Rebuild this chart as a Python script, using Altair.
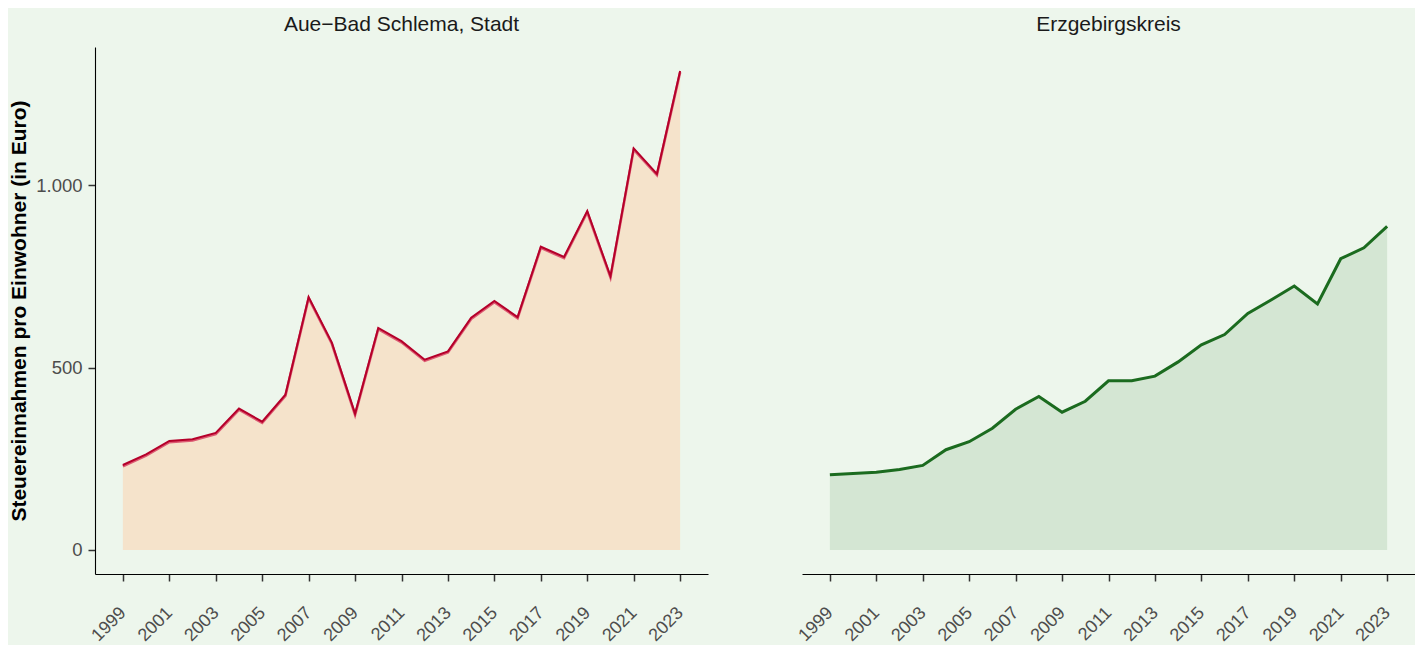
import altair as alt
import pandas as pd

years = list(range(1999, 2024))
aue_values = [233, 262, 299, 304, 321, 388, 352, 426, 694, 569, 374, 609, 573, 522, 545,
              637, 683, 639, 832, 804, 930, 751, 1102, 1032, 1314]
erz_values = [206, 210, 213, 221, 232, 275, 297, 334, 386, 421, 378, 408, 464, 464, 477,
              516, 563, 591, 649, 686, 724, 675, 799, 829, 888]
tick_years = list(range(1999, 2024, 2))
y_ticks = [0, 500, 1000]

titles = ["Aue\u2212Bad Schlema, Stadt", "Erzgebirgskreis"]

df_aue = pd.DataFrame({"Jahr": years, "Wert": aue_values})
df_erz = pd.DataFrame({"Jahr": years, "Wert": erz_values})

BG = "#EDF6EC"
x_dom = [1997.8, 2024.2]
y_dom = [-66, 1380]
W, H = 613, 527
FONT = "Liberation Sans"

def panel(df, title, fill, stroke, shadow, show_y):
    x = alt.X("Jahr:Q", scale=alt.Scale(domain=x_dom, nice=False, zero=False),
              axis=alt.Axis(values=tick_years, format="d", title=None, labelAngle=-45,
                            labelAlign="right", labelBaseline="middle", labelPadding=29,
                            grid=False, tickSize=7, tickColor="#333333", tickWidth=1.5,
                            domainColor="#000000", domainWidth=1.1,
                            labelColor="#4D4D4D", labelFontSize=18, labelFont=FONT))
    if show_y:
        yaxis = alt.Axis(values=y_ticks, title="Steuereinnahmen pro Einwohner (in Euro)",
                         labelExpr="replace(format(datum.value, ',d'), ',', '.')",
                         grid=False, tickSize=7, tickColor="#333333", tickWidth=1.5,
                         domainColor="#000000", domainWidth=1.1, labelPadding=6,
                         labelColor="#4D4D4D", labelFontSize=18.5, labelFont=FONT,
                         titleFont=FONT, titleFontSize=21, titleFontWeight="bold",
                         titleColor="#000000", titlePadding=6)
    else:
        yaxis = None
    y = alt.Y("Wert:Q", scale=alt.Scale(domain=y_dom, nice=False, zero=False), axis=yaxis)
    base = alt.Chart(df)
    area = base.mark_area(color=fill, opacity=1).encode(x=x, y=y, y2=alt.datum(0))
    layers = [area]
    if shadow:
        layers.append(base.mark_line(color=shadow, strokeWidth=2.6, yOffset=1.2).encode(x=x, y=y))
        layers.append(base.mark_line(color=stroke, strokeWidth=2.0).encode(x=x, y=y))
    else:
        layers.append(base.mark_line(color=stroke, strokeWidth=3).encode(x=x, y=y))
    return alt.layer(*layers).properties(
        width=W, height=H,
        title=alt.TitleParams(title, anchor="middle", fontSize=21, font=FONT,
                              fontWeight="normal", color="#1A1A1A", offset=-5,
                              baseline="alphabetic"))

left = panel(df_aue, titles[0], "#F5E3CB", "#B5002A", "#DC5A72", True)
right = panel(df_erz, titles[1], "#D4E6D3", "#1B6B1F", None, False)

chart = alt.hconcat(left, right, spacing=87).properties(
    background=BG, padding={"left": 0, "top": 6, "right": 0, "bottom": 0}
).configure_view(stroke=None)

chart.save("out.html", embed_options={"renderer": "svg", "actions": False})
